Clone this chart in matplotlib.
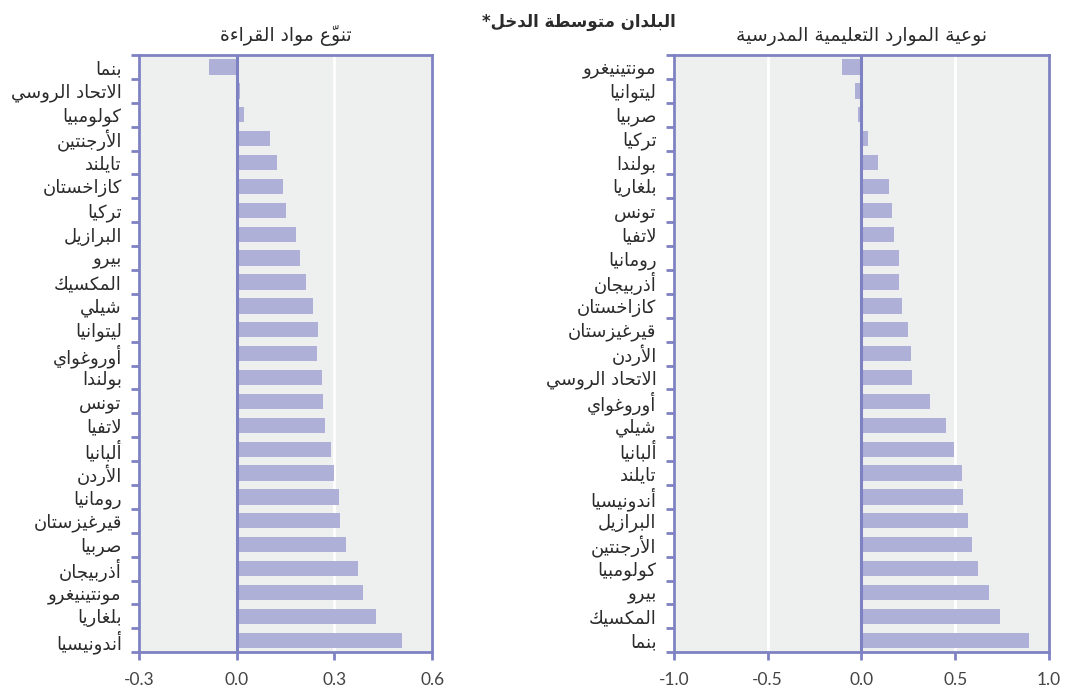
import matplotlib.pyplot as plt
import numpy as np

# data
reading_countries = ["بنما", "الاتحاد الروسي", "كولومبيا", "الأرجنتين", "تايلند", "كازاخستان",
                     "تركيا", "البرازيل", "بيرو", "المكسيك", "شيلي", "ليتوانيا", "أوروغواي",
                     "بولندا", "تونس", "لاتفيا", "ألبانيا", "الأردن", "رومانيا", "قيرغيزستان",
                     "صربيا", "أذربيجان", "مونتينيغرو", "بلغاريا", "أندونيسيا"]
reading_values = [-0.086, 0.010, 0.023, 0.103, 0.125, 0.141, 0.150, 0.181, 0.193, 0.212,
                  0.234, 0.249, 0.246, 0.262, 0.265, 0.271, 0.290, 0.299, 0.314, 0.318,
                  0.336, 0.373, 0.386, 0.426, 0.507]

school_countries = ["مونتينيغرو", "ليتوانيا", "صربيا", "تركيا", "بولندا", "بلغاريا", "تونس",
                    "لاتفيا", "رومانيا", "أذربيجان", "كازاخستان", "قيرغيزستان", "الأردن",
                    "الاتحاد الروسي", "أوروغواي", "شيلي", "ألبانيا", "تايلند", "أندونيسيا",
                    "البرازيل", "الأرجنتين", "كولومبيا", "بيرو", "المكسيك", "بنما"]
school_values = [-0.103, -0.037, -0.021, 0.034, 0.090, 0.145, 0.161, 0.172, 0.202, 0.202,
                 0.218, 0.248, 0.262, 0.268, 0.365, 0.452, 0.496, 0.537, 0.543, 0.569,
                 0.589, 0.619, 0.681, 0.741, 0.894]

main_title = "البلدان متوسطة الدخل*"
reading_title = "تنوّع مواد القراءة"
school_title = "نوعية الموارد التعليمية المدرسية"

# matplotlib does not shape Arabic, so map letters to presentation forms and reverse
BASE = {
    'ء': (0xFE80, 'U'), 'آ': (0xFE81, 'R'), 'أ': (0xFE83, 'R'), 'ؤ': (0xFE85, 'R'),
    'إ': (0xFE87, 'R'), 'ئ': (0xFE89, 'D'), 'ا': (0xFE8D, 'R'), 'ب': (0xFE8F, 'D'),
    'ة': (0xFE93, 'R'), 'ت': (0xFE95, 'D'), 'ث': (0xFE99, 'D'), 'ج': (0xFE9D, 'D'),
    'ح': (0xFEA1, 'D'), 'خ': (0xFEA5, 'D'), 'د': (0xFEA9, 'R'), 'ذ': (0xFEAB, 'R'),
    'ر': (0xFEAD, 'R'), 'ز': (0xFEAF, 'R'), 'س': (0xFEB1, 'D'), 'ش': (0xFEB5, 'D'),
    'ص': (0xFEB9, 'D'), 'ض': (0xFEBD, 'D'), 'ط': (0xFEC1, 'D'), 'ظ': (0xFEC5, 'D'),
    'ع': (0xFEC9, 'D'), 'غ': (0xFECD, 'D'), 'ف': (0xFED1, 'D'), 'ق': (0xFED5, 'D'),
    'ك': (0xFED9, 'D'), 'ل': (0xFEDD, 'D'), 'م': (0xFEE1, 'D'), 'ن': (0xFEE5, 'D'),
    'ه': (0xFEE9, 'D'), 'و': (0xFEED, 'R'), 'ى': (0xFEEF, 'R'), 'ي': (0xFEF1, 'D'),
}
LAM_ALEF = {'آ': 0xFEF5, 'أ': 0xFEF7, 'إ': 0xFEF9, 'ا': 0xFEFB}


def ar(text):
    units = []
    i = 0
    while i < len(text):
        c = text[i]
        if '\u064B' <= c <= '\u0652':
            if units:
                units[-1][2].append(c)
            i += 1
            continue
        if c == 'ل' and i + 1 < len(text) and text[i + 1] in LAM_ALEF:
            units.append([LAM_ALEF[text[i + 1]], 'R', []])
            i += 2
            continue
        if c in BASE:
            units.append([BASE[c][0], BASE[c][1], []])
        else:
            units.append([c, 'N', []])
        i += 1
    out = []
    for k, (b, t, marks) in enumerate(units):
        if t == 'N':
            out.append(''.join(marks) + b)
            continue
        prev = units[k - 1][1] if k > 0 else 'N'
        nxt = units[k + 1][1] if k + 1 < len(units) else 'N'
        jp = prev == 'D' and t in 'DR'
        jn = t == 'D' and nxt in 'DR'
        off = 3 if (jp and jn) else 1 if jp else 2 if jn else 0
        out.append(''.join(marks) + chr(b + off))
    return ''.join(reversed(out))


plt.rcParams['font.family'] = ['DejaVu Sans']

purple = '#7f82c2'
bar_color = '#aeb0d8'
bg = '#eef0ef'
text_color = '#2b2b2b'

fig = plt.figure(figsize=(10.86, 6.88), dpi=100)
ax1 = fig.add_axes([0.128, 0.052, 0.270, 0.868])
ax2 = fig.add_axes([0.6206, 0.052, 0.3453, 0.868])


def draw_panel(ax, countries, values, ticks, ticklabels, xlim, title):
    n = len(countries)
    y = np.arange(n)
    ax.set_facecolor(bg)
    for t in ticks:
        if t != 0:
            ax.axvline(t, color='white', lw=2, zorder=1)
    ax.barh(y, values, height=0.64, color=bar_color, zorder=2)
    ax.axvline(0, color=purple, lw=2.2, zorder=3)
    ax.set_xlim(*xlim)
    ax.set_ylim(n - 0.5, -0.5)
    ax.set_yticks(y)
    ax.set_yticklabels([ar(c) for c in countries], fontsize=13, color=text_color)
    ax.set_yticks(np.arange(n + 1) - 0.5, minor=True)
    ax.tick_params(axis='y', which='major', length=0, pad=12.5)
    ax.tick_params(axis='y', which='minor', length=6, width=2, color=purple)
    ax.set_xticks(ticks)
    ax.set_xticklabels(ticklabels, fontsize=12.5, color='#444444', family='Lato')
    ax.tick_params(axis='x', length=6, width=2, color=purple, pad=8)
    for s in ax.spines.values():
        s.set_color(purple)
        s.set_linewidth(2)
    ax.set_title(ar(title), fontsize=13.5, color=text_color, pad=10)


draw_panel(ax1, reading_countries, reading_values, [-0.3, 0, 0.3, 0.6],
           ["-0.3", "0.0", "0.3", "0.6"], (-0.3, 0.6), reading_title)
draw_panel(ax2, school_countries, school_values, [-1.0, -0.5, 0, 0.5, 1.0],
           ["-1.0", "-0.5", "0.0", "0.5", "1.0"], (-1.0, 1.0), school_title)

fig.text(0.533, 0.968, ar(main_title), ha='center', va='center', fontsize=12,
         fontweight='bold', color=text_color)

plt.savefig("out.png", dpi=100)
